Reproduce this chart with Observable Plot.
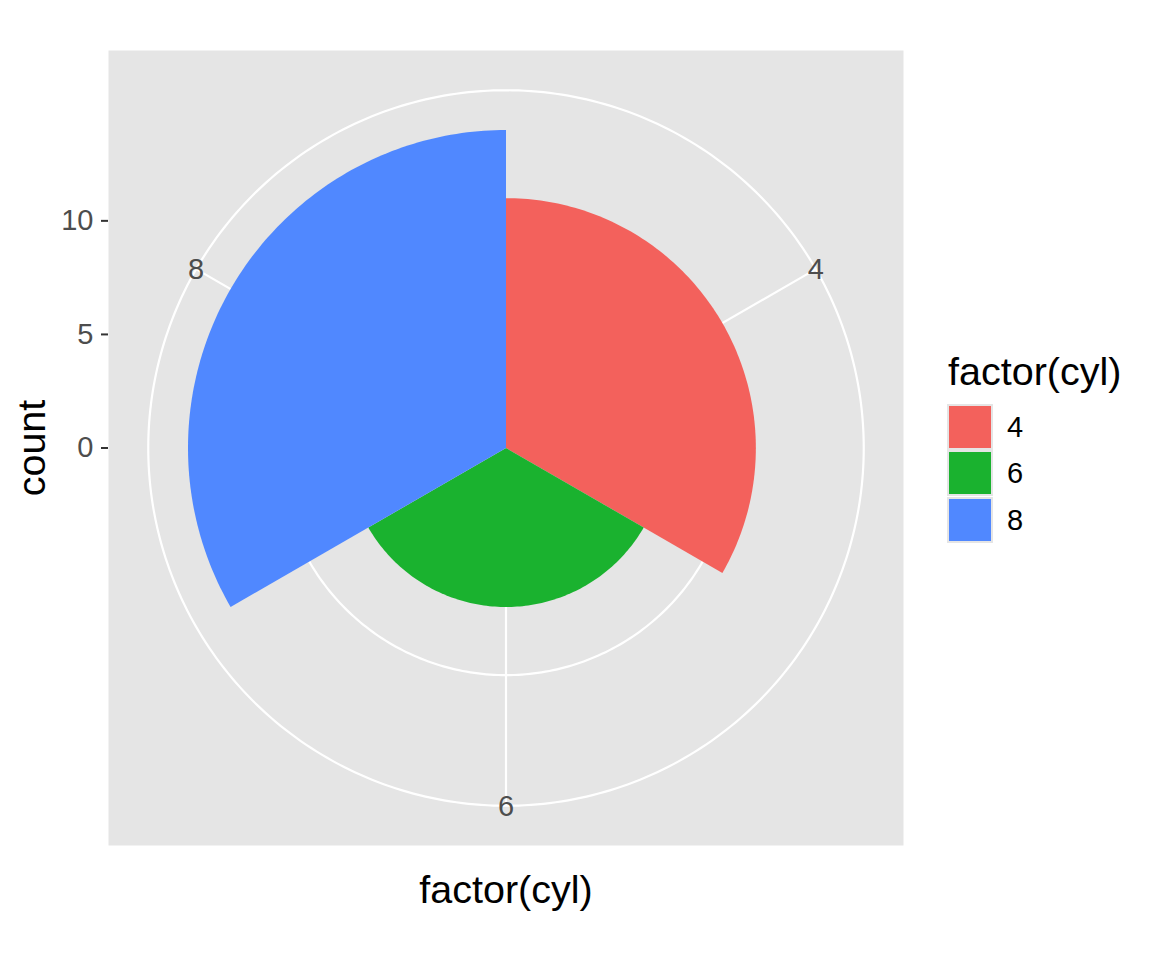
<!DOCTYPE html>
<html>
<head>
<meta charset="utf-8">
<script src="https://cdn.jsdelivr.net/npm/d3@7"></script>
<script src="https://cdn.jsdelivr.net/npm/@observablehq/plot@0.6"></script>
<style>
  html, body { margin: 0; padding: 0; background: white; }
  #wrap { position: relative; width: 1152px; height: 960px; font-family: "Liberation Sans", Arial, Helvetica, sans-serif; }
  #legend { position: absolute; left: 947px; top: 0; }
  .ltitle { position: absolute; left: 1px; font-size: 39.5px; line-height: 40px; color: #000; white-space: nowrap; }
  .lkey { position: absolute; left: 0; width: 46px; height: 46px; background: #E5E5E5; }
  .lkey > div { position: absolute; left: 2px; top: 2px; right: 2px; bottom: 2px; }
  .llab { position: absolute; left: 60px; font-size: 29px; line-height: 46px; color: #000; }
</style>
</head>
<body>
<div id="wrap"><div id="legend"></div></div>
<script>
// ---- data ----
const cyl = ["4", "6", "8"];
const counts = [11, 7, 14];
const yTicks = [0, 5, 10];
const colors = ["#F3615C", "#1AB22F", "#5088FF"];
const xTitle = "factor(cyl)";
const yTitle = "count";
const legendTitle = "factor(cyl)";

// ---- polar geometry (ggplot coord_polar: r in [0, 0.4] of panel, outer grid at 0.45) ----
const rMax = d3.max(counts);
const half = rMax / 0.4 * 0.5;
const rOuter = rMax / 0.4 * 0.45;
const theta = d3.scaleBand().domain(cyl).range([0, 2 * Math.PI]).padding(0);
const rows = cyl.map((c, i) => ({cyl: c, count: counts[i]}));

const wedgePts = [];
rows.forEach(d => {
  const a0 = theta(d.cyl), a1 = a0 + theta.bandwidth();
  wedgePts.push({cyl: d.cyl, x: 0, y: 0});
  const n = 120;
  for (let k = 0; k <= n; k++) {
    const a = a0 + (a1 - a0) * k / n;
    wedgePts.push({cyl: d.cyl, x: d.count * Math.sin(a), y: d.count * Math.cos(a)});
  }
});

const ringRadii = yTicks.filter(t => t > 0).concat([rOuter]);
const ringPts = [];
ringRadii.forEach(r => {
  for (let k = 0; k < 360; k++) {
    const a = k * Math.PI / 180;
    ringPts.push({r, x: r * Math.sin(a), y: r * Math.cos(a)});
  }
});
const mid = c => theta(c) + theta.bandwidth() / 2;

const plot = Plot.plot({
  width: 1152,
  height: 960,
  marginLeft: 108,
  marginRight: 249,
  marginTop: 50,
  marginBottom: 115,
  style: {fontFamily: '"Liberation Sans", Arial, Helvetica, sans-serif', fontSize: "29px", background: "white", overflow: "visible"},
  x: {domain: [-half, half], axis: null},
  y: {domain: [-half, half], axis: null},
  color: {domain: cyl, range: colors},
  marks: [
    Plot.frame({fill: "#E5E5E5", stroke: "none"}),
    Plot.line(ringPts, {x: "x", y: "y", z: "r", stroke: "white", strokeWidth: 2.2, curve: "linear-closed"}),
    Plot.link(cyl, {x1: () => 0, y1: () => 0, x2: c => rOuter * Math.sin(mid(c)), y2: c => rOuter * Math.cos(mid(c)), stroke: "white", strokeWidth: 2.2}),
    Plot.line(wedgePts, {x: "x", y: "y", z: "cyl", fill: "cyl", stroke: "none", curve: "linear-closed"}),
    Plot.text(cyl, {x: c => rOuter * Math.sin(mid(c)), y: c => rOuter * Math.cos(mid(c)), text: c => c, fontSize: 29, fill: "#4D4D4D", dy: 1}),
    Plot.axisY({ticks: yTicks, tickSize: 7, text: null, label: null, stroke: "#333333", strokeWidth: 2}),
    Plot.axisY({ticks: yTicks, tickSize: 0, tickPadding: 15, label: null, fontSize: 29, fill: "#4D4D4D"}),
    Plot.text([yTitle], {frameAnchor: "left", textAnchor: "middle", rotate: -90, dx: -76, fontSize: 39.5, fill: "black", lineAnchor: "middle"}),
    Plot.text([xTitle], {frameAnchor: "bottom", textAnchor: "middle", dy: 45, fontSize: 39.5, fill: "black", lineAnchor: "middle"})
  ]
});
document.getElementById("wrap").prepend(plot);

// ---- legend ----
const legend = document.getElementById("legend");
const t = document.createElement("div");
t.className = "ltitle";
t.style.top = "351px";
t.textContent = legendTitle;
legend.appendChild(t);
const keyTop = 404, keyH = 46.3;
cyl.forEach((c, i) => {
  const k = document.createElement("div");
  k.className = "lkey";
  k.style.top = (keyTop + i * keyH) + "px";
  const inner = document.createElement("div");
  inner.style.background = colors[i];
  k.appendChild(inner);
  legend.appendChild(k);
  const l = document.createElement("div");
  l.className = "llab";
  l.style.top = (keyTop + i * keyH) + "px";
  l.textContent = c;
  legend.appendChild(l);
});
</script>
</body>
</html>
